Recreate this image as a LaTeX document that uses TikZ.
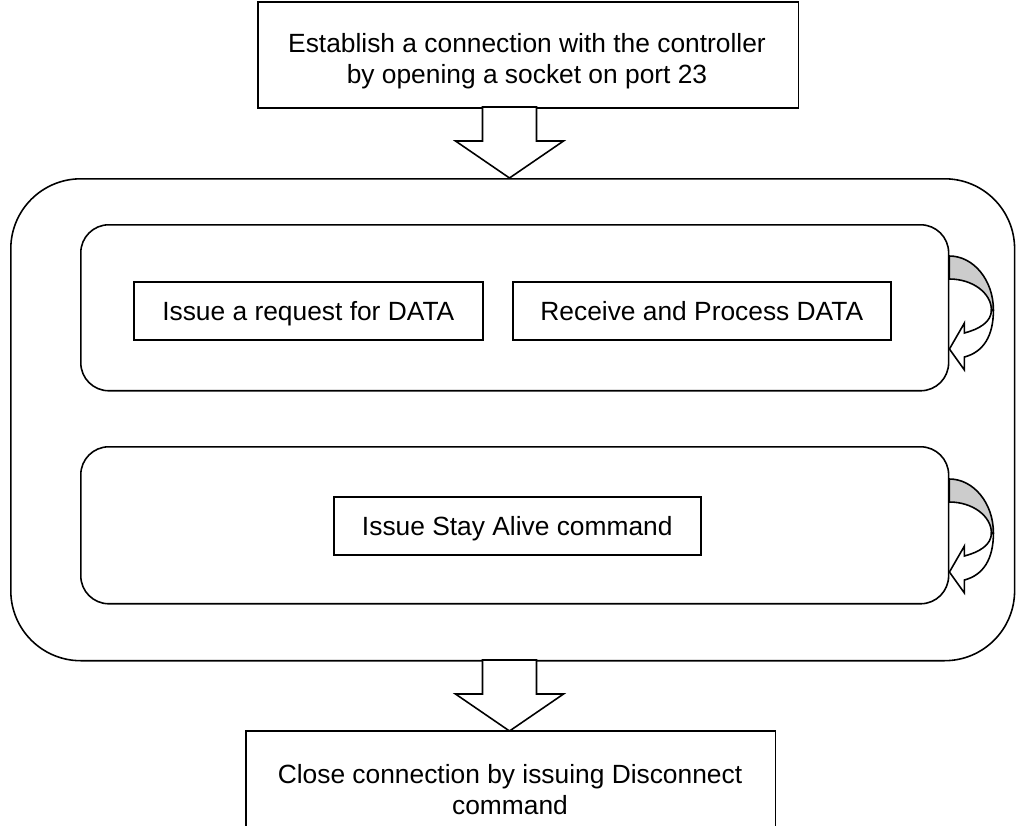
\documentclass[tikz,border=0pt]{standalone}
\usepackage{fontspec}
\setmainfont{Liberation Sans}
\usetikzlibrary{calc}

\tikzset{
	box/.style={draw, line width=0.9pt, anchor=north west, inner sep=0pt, align=center, font=\fontsize{15}{17.6}\selectfont},
	cell/.style={box, minimum height=1.16cm, text height=13pt, text depth=1.7pt},
	lbl/.style={anchor=north, inner sep=0pt, align=center, font=\fontsize{15}{17.6}\selectfont},
	blockdown/.pic={
		\draw[line width=0.9pt, fill=white] (-27,0) -- (27,0) -- (27,34) -- (54,34) -- (0,71) -- (-54,34) -- (-27,34) -- cycle;
	},
	loopback/.pic={
		\filldraw[line width=0.9pt, fill=gray!40] (0,0) .. controls (24,0) and (44,24) .. (44,54) -- (42,54) .. controls (42,37) and (23,23) .. (0,23) -- cycle;
		\filldraw[line width=0.9pt, fill=white] (44,54) .. controls (44,80) and (34,96) .. (15,101) -- (15,114) -- (0,93) -- (15,67) -- (15,77) .. controls (30,73) and (42,66) .. (42,54) -- cycle;
	}
}

\begin{document}
\begin{tikzpicture}[x=0.02cm, y=-0.02cm]
		\useasboundingbox (0,0) rectangle (1016,825);
		%coordinates
		\coordinate (TL)   at (257,1);
		\coordinate (LL)   at (10,178);
		\coordinate (PL)   at (80,224);
		\coordinate (AL)   at (80,446);
		\coordinate (CL)   at (245,730);
		
		%nodes
		\node[box, minimum width=10.82cm, minimum height=2.12cm] (connect) at (TL) {};
		\node[lbl] (connectlbl) at (527,33) {Establish a connection with the controller\\by opening a socket on port 23};
		
		\node[box, minimum width=20.08cm, minimum height=9.64cm, rounded corners=1.4cm] (loop) at (LL) {};
		\node[box, minimum width=17.36cm, minimum height=3.32cm, rounded corners=0.56cm] (poll) at (PL) {};
		\node[box, minimum width=17.36cm, minimum height=3.14cm, rounded corners=0.56cm] (alive) at (AL) {};
		
		\node[cell, minimum width=6.98cm] (request) at (133,281) {Issue a request for DATA};
		\node[cell, minimum width=7.56cm] (receive) at (512,281) {Receive and Process DATA};
		\node[cell, minimum width=7.34cm] (stay) at (333,496) {Issue Stay Alive command};
		
		\node[box, minimum width=10.6cm, minimum height=2.4cm] (close) at (CL) {};
		\node[lbl] (closelbl) at (510,764) {Close connection by issuing Disconnect\\command};
		
		%arrows
		\pic at (509.5,107) {blockdown};
		\pic at (509.5,660) {blockdown};
		\pic at ($(poll.north east)+(0,32)$) {loopback};
		\pic at ($(alive.north east)+(0,33)$) {loopback};
\end{tikzpicture}
\end{document}
